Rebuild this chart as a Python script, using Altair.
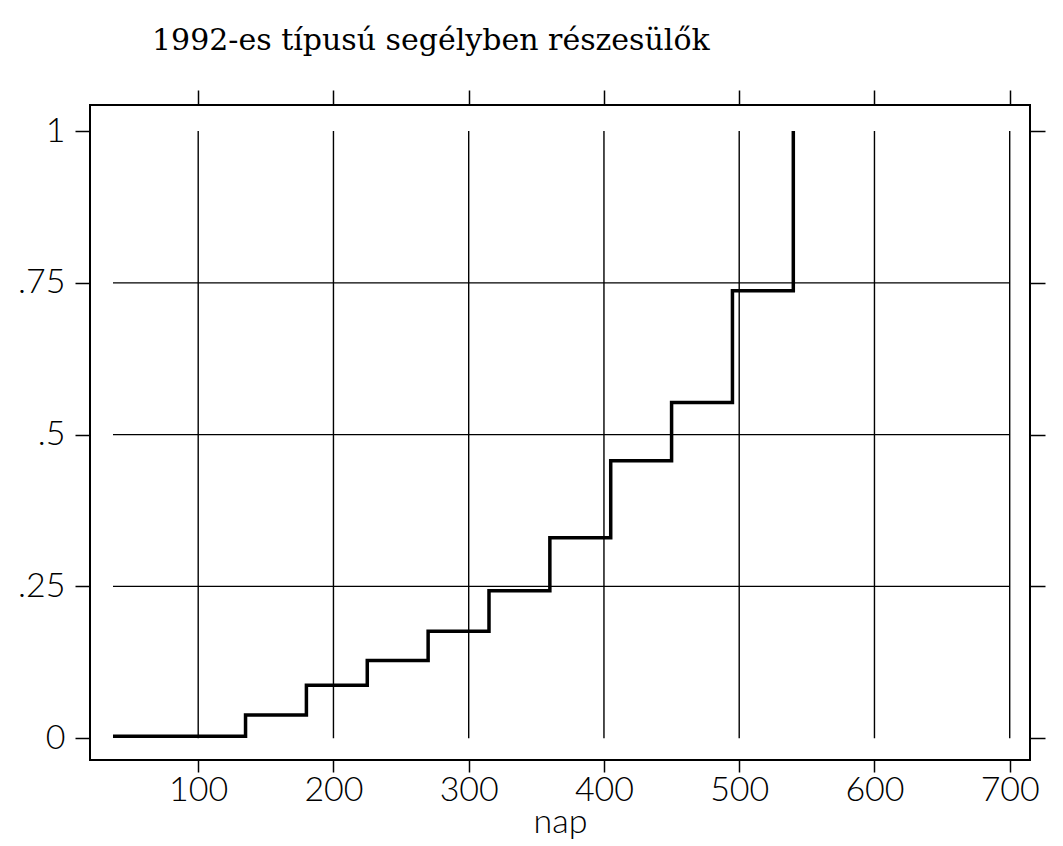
import altair as alt
import pandas as pd

# Step curve
days = [37, 135, 180, 225, 270, 315, 360, 405, 450, 495, 540]
prob = [0.003, 0.038, 0.087, 0.128, 0.176, 0.243, 0.330, 0.457, 0.553, 0.737, 1.0]

# Axis ticks / grid
x_ticks = [100, 200, 300, 400, 500, 600, 700]
y_ticks = [0, 0.25, 0.5, 0.75, 1]
h_grid = [0.25, 0.5, 0.75]
grid_x_start, grid_x_end = 37, 700
grid_y_start, grid_y_end = 0, 1

title_text = "1992-es típusú segélyben részesülők"
x_title = "nap"

xs = alt.Scale(domain=[20, 715], nice=False, zero=False)
ys = alt.Scale(domain=[-0.036, 1.043], nice=False, zero=False)

lbl_font = "Lato"
lbl_size = 34
lbl_weight = 300

curve = pd.DataFrame({"nap": days, "p": prob})
vgrid = pd.DataFrame({"gx": x_ticks, "y0": [grid_y_start] * len(x_ticks), "y1": [grid_y_end] * len(x_ticks)})
hgrid = pd.DataFrame({"gy": h_grid, "x0": [grid_x_start] * len(h_grid), "x1": [grid_x_end] * len(h_grid)})

line = alt.Chart(curve).mark_line(interpolate="step-after", color="black", strokeWidth=3.5).encode(
    x=alt.X("nap:Q", scale=xs, title=x_title,
            axis=alt.Axis(orient="bottom", values=x_ticks, tickSize=12, labelPadding=1,
                          titlePadding=-2, grid=False)),
    y=alt.Y("p:Q", scale=ys,
            axis=alt.Axis(orient="left", values=y_ticks, tickSize=15, labelPadding=10, grid=False, title="",
                          labelExpr="datum.value == 0 ? '0' : datum.value == 1 ? '1' : slice(format(datum.value, '~g'), 1)")),
)

vrules = alt.Chart(vgrid).mark_rule(color="black", strokeWidth=1.4).encode(
    x=alt.X("gx:Q", scale=xs,
            axis=alt.Axis(orient="top", values=x_ticks, tickSize=15, labels=False, grid=False, title="")),
    y=alt.Y("y0:Q", scale=ys,
            axis=alt.Axis(orient="right", values=y_ticks, tickSize=15, labels=False, grid=False, title="")),
    y2="y1:Q",
)

hrules = alt.Chart(hgrid).mark_rule(color="black", strokeWidth=1.4).encode(
    y=alt.Y("gy:Q", scale=ys, axis=None),
    x=alt.X("x0:Q", scale=xs, axis=None),
    x2="x1:Q",
)

chart = alt.layer(vrules, hrules, line).resolve_axis(
    x="independent", y="independent"
).properties(
    width=940,
    height=655,
    background="white",
    autosize=alt.AutoSizeParams(type="none"),
    padding={"left": 90, "top": 105, "right": 33, "bottom": 86},
    title=alt.TitleParams(text=title_text, font="DejaVu Serif", fontSize=30, fontWeight="normal",
                          anchor="start", frame="group", dx=62, offset=33, color="black"),
).configure_view(
    stroke="black", strokeWidth=2
).configure_axis(
    labelFont=lbl_font, labelFontSize=lbl_size, labelFontWeight=lbl_weight, labelColor="black",
    titleFont=lbl_font, titleFontSize=lbl_size, titleFontWeight=lbl_weight, titleColor="black",
    tickColor="black", tickWidth=1.5, domain=False,
)

chart.save("out.html", embed_options={"renderer": "svg", "actions": False})
